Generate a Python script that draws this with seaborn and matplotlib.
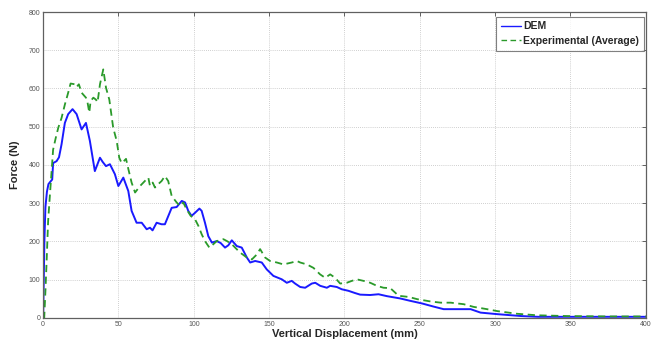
import matplotlib
matplotlib.use("Agg")
import matplotlib.pyplot as plt
import seaborn as sns
import pandas as pd

# DEM simulation (blue, solid)
dem_x = [0, 0.8, 1.5, 2.5, 3.5, 4.5, 6.0, 6.6, 8.9, 10.5, 12.2, 14.4, 16.6, 19.5, 22.2, 25.5,
         28.4, 31.0, 34.3, 37.7, 39.5, 41.7, 44.3, 47.6, 49.9, 53.2, 56.5, 58.7, 62.0, 65.4,
         68.7, 70.9, 72.6, 75.3, 78.6, 80.8, 83.1, 85.3, 88.6, 92.0, 94.2, 96.3, 98.5, 100.8,
         103.7, 105.2, 107.4, 109.6, 112.0, 115.2, 117.8, 120.7, 122.9, 125.2, 128.5, 131.8,
         135.2, 137.4, 140.7, 145.1, 148.4, 152.8, 158.4, 161.7, 165.0, 167.2, 170.6, 173.9,
         178.3, 180.6, 183.9, 188.3, 190.5, 194.9, 198.2, 202.6, 207.1, 210.4, 217.0, 222.6,
         228.2, 237.0, 243.4, 251.4, 258.9, 265.8, 277.0, 283.7, 290.3, 301.3, 317.3, 328.4,
         348.0, 375.0, 400.0]
dem_y = [0, 200, 290, 330, 350, 355, 362, 405, 410, 420, 454, 510, 533, 546, 533, 493,
         510, 463, 384, 419, 408, 397, 402, 376, 345, 367, 332, 280, 249, 249,
         232, 236, 229, 249, 245, 245, 267, 288, 290, 306, 302, 280, 267, 275,
         286, 280, 249, 214, 197, 201, 196, 184, 190, 203, 188, 184,
         158, 145, 149, 145, 127, 110, 101, 92, 97, 90, 81, 79,
         90, 92, 84, 79, 84, 81, 75, 71, 65, 61, 60, 62,
         57, 51, 45, 38, 30, 23, 23, 23, 14, 10, 5, 3,
         3, 3, 3]

# Experimental average (green, dashed)
exp_x = [0, 0.7, 1.6, 2.3, 3.3, 4.5, 5.6, 6.6, 8.3, 10.0, 12.2, 14.4, 16.6, 18.2, 21.1, 22.2,
         23.7, 25.5, 28.4, 29.3, 30.6, 31.5, 33.3, 35.0, 36.1, 37.7, 39.9, 41.7, 43.9, 46.5,
         48.8, 50.5, 52.1, 53.5, 55.0, 56.5, 58.7, 61.0, 64.3, 66.5, 68.7, 69.8, 70.9, 72.7,
         74.2, 76.4, 78.6, 80.8, 83.0, 85.3, 88.6, 90.8, 93.0, 95.2, 97.9, 100.8, 103.0,
         105.2, 107.4, 110.3, 113.0, 115.2, 119.6, 122.0, 125.2, 127.4, 130.7, 135.2, 138.5,
         141.8, 144.0, 147.3, 150.6, 155.1, 159.5, 165.0, 168.4, 170.6, 175.0, 179.4, 183.8,
         187.2, 190.5, 193.8, 197.1, 201.5, 204.9, 208.2, 212.6, 217.1, 221.5, 225.9, 230.4,
         235.9, 242.6, 248.4, 257.3, 263.9, 270.5, 279.1, 285.7, 294.6, 301.3, 314.5, 327.8,
         347.6, 375.0, 400.0]
exp_y = [0, 0, 79, 149, 254, 323, 384, 440, 470, 497, 523, 558, 589, 613, 611, 604,
         611, 589, 576, 567, 537, 567, 576, 571, 564, 611, 650, 602, 571, 497,
         463, 419, 405, 410, 416, 390, 354, 328, 345, 354, 363, 367, 345, 354,
         341, 350, 358, 371, 358, 319, 302, 293, 302, 284, 267, 258, 241,
         219, 201, 184, 193, 201, 206, 201, 193, 184, 171, 158, 153,
         166, 180, 158, 149, 145, 140, 145, 149, 145, 140, 131, 114,
         105, 114, 105, 90, 92, 97, 101, 97, 92, 84, 79, 78,
         58, 55, 49, 43, 40, 40, 36, 29, 23, 18, 11, 7,
         5, 4, 4]

x_ticks = [0, 50, 100, 150, 200, 250, 300, 350, 400]
y_ticks = [0, 100, 200, 300, 400, 500, 600, 700, 800]

sns.set_style("white")
plt.rcParams['font.family'] = ['Liberation Sans', 'DejaVu Sans']

fig = plt.figure(figsize=(6.59, 3.43), dpi=100)
ax = fig.add_axes([0.0655, 0.073, 0.9145, 0.892])

dem_df = pd.DataFrame({"x": dem_x, "y": dem_y})
exp_df = pd.DataFrame({"x": exp_x, "y": exp_y})
sns.lineplot(data=dem_df, x="x", y="y", ax=ax, color="#1a1aff", lw=1.4,
             label="DEM", sort=False, estimator=None)
sns.lineplot(data=exp_df, x="x", y="y", ax=ax, color="#2a9a2a", lw=1.3,
             linestyle=(0, (4, 2.5)), label="Experimental (Average)", sort=False, estimator=None)

ax.set_xlim(0, 400)
ax.set_ylim(0, 800)
ax.set_xticks(x_ticks)
ax.set_yticks(y_ticks)
ax.grid(True, color="#c0c0c0", linestyle=(0, (1, 1.5)), lw=0.6)
for s in ax.spines.values():
    s.set_color("#606060")
    s.set_linewidth(0.9)
ax.tick_params(axis="both", direction="in", length=3, width=0.7, colors="#606060",
               labelsize=5, labelcolor="#555555", top=True, right=True, pad=2)
ax.set_xlabel("Vertical Displacement (mm)", fontsize=8, fontweight="bold", labelpad=1)
ax.set_ylabel("Force (N)", fontsize=8, fontweight="bold", labelpad=6)

leg = ax.legend(loc="upper right", fontsize=7.5, frameon=True, fancybox=False,
                bbox_to_anchor=(0.997, 0.985), borderaxespad=0.0,
                handlelength=2.0, borderpad=0.45, labelspacing=0.45,
                handletextpad=0.2)
leg.get_frame().set_edgecolor("#606060")
leg.get_frame().set_linewidth(0.8)
for line in leg.get_lines():
    line.set_linewidth(1.0)
for t in leg.get_texts():
    t.set_fontweight("bold")

fig.savefig("out.png", dpi=100)
